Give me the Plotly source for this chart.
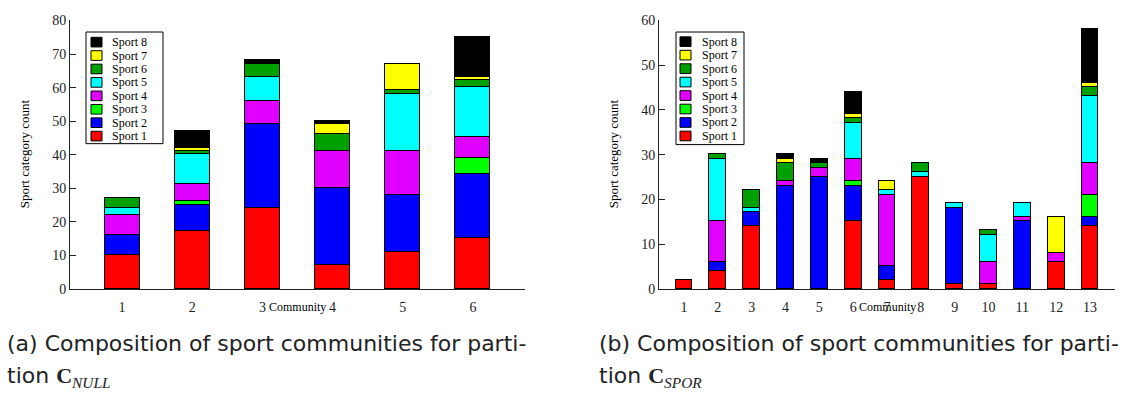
import plotly.graph_objects as go

sports = ["Sport 1", "Sport 2", "Sport 3", "Sport 4", "Sport 5", "Sport 6", "Sport 7", "Sport 8"]
colors = ["#FF0000", "#0000FF", "#00FF00", "#E000FF", "#00FFFF", "#00A000", "#FFFF00", "#000000"]

# Partition C_NULL (communities 1..6)
null_communities = [1, 2, 3, 4, 5, 6]
null_s1 = [10, 17, 24, 7, 11, 15]
null_s2 = [6, 8, 25, 23, 17, 19]
null_s3 = [0, 1, 0, 0, 0, 5]
null_s4 = [6, 5, 7, 11, 13, 6]
null_s5 = [2, 9, 7, 0, 17, 15]
null_s6 = [3, 1, 4, 5, 1, 2]
null_s7 = [0, 1, 0, 3, 8, 1]
null_s8 = [0, 5, 1, 1, 0, 12]

# Partition C_SPOR (communities 1..13)
spor_communities = list(range(1, 14))
spor_s1 = [2, 4, 14, 0, 0, 15, 2, 25, 1, 1, 0, 6, 14]
spor_s2 = [0, 2, 3, 23, 25, 8, 3, 0, 17, 0, 15, 0, 2]
spor_s3 = [0, 0, 0, 0, 0, 1, 0, 0, 0, 0, 0, 0, 5]
spor_s4 = [0, 9, 0, 1, 2, 5, 16, 0, 0, 5, 1, 2, 7]
spor_s5 = [0, 14, 1, 0, 0, 8, 1, 1, 1, 6, 3, 0, 15]
spor_s6 = [0, 1, 4, 4, 1, 1, 0, 2, 0, 1, 0, 0, 2]
spor_s7 = [0, 0, 0, 1, 0, 1, 2, 0, 0, 0, 0, 8, 1]
spor_s8 = [0, 0, 0, 1, 1, 5, 0, 0, 0, 0, 0, 0, 12]

null_series = [null_s1, null_s2, null_s3, null_s4, null_s5, null_s6, null_s7, null_s8]
spor_series = [spor_s1, spor_s2, spor_s3, spor_s4, spor_s5, spor_s6, spor_s7, spor_s8]

SERIF = "Liberation Serif, Times New Roman, serif"
SANS = "DejaVu Sans, sans-serif"
W, H = 1133, 399

fig = go.Figure()
for name, col, vals in zip(sports, colors, null_series):
    fig.add_trace(go.Bar(x=null_communities, y=vals, name=name, width=0.5, showlegend=False,
                         marker=dict(color=col, line=dict(color="black", width=1)),
                         xaxis="x", yaxis="y"))
for name, col, vals in zip(sports, colors, spor_series):
    fig.add_trace(go.Bar(x=spor_communities, y=vals, name=name, width=0.5, showlegend=False,
                         marker=dict(color=col, line=dict(color="black", width=1)),
                         xaxis="x2", yaxis="y2"))

ydom = [1 - 293 / H, 1 - 14 / H]
axis_common = dict(showline=True, linecolor="#222", linewidth=1, showgrid=False, zeroline=False,
                   tickfont=dict(family=SERIF, size=14, color="#222"))

fig.update_layout(
    width=W, height=H, margin=dict(l=0, r=0, t=0, b=0),
    paper_bgcolor="white", plot_bgcolor="white", barmode="stack",
    bargap=0, showlegend=False,
    xaxis=dict(domain=[70 / W, 525 / W], range=[0.257, 6.743], tickvals=null_communities,
               ticks="", anchor="y", ticklabelstandoff=5, **axis_common),
    yaxis=dict(domain=ydom, range=[0, 80], tickvals=list(range(0, 81, 10)), ticks="inside",
               ticklen=6, tickcolor="#222", anchor="x", **axis_common),
    xaxis2=dict(domain=[659 / W, 1115 / W], range=[0.26, 13.74], tickvals=spor_communities,
                ticks="", anchor="y2", ticklabelstandoff=5, **axis_common),
    yaxis2=dict(domain=ydom, range=[0, 60], tickvals=list(range(0, 61, 10)), ticks="inside",
                ticklen=6, tickcolor="#222", anchor="x2", **axis_common),
)

ann = []
shapes = []


def px_x(v):
    return v / W


def px_y(v):
    return 1 - v / H


# custom legends (box, swatches, labels), Sport 8 on top
for (bx0, bx1, by0, by1, sw0, tx, first_y, step) in [(86, 163, 26, 142, 91, 110, 36.5, 13.95),
                                                     (676, 744, 26, 143, 680, 700, 36, 14.0)]:
    shapes.append(dict(type="rect", xref="paper", yref="paper", x0=px_x(bx0), x1=px_x(bx1),
                       y0=px_y(by1), y1=px_y(by0), line=dict(color="black", width=1),
                       fillcolor="white", layer="above"))
    for i, (name, col) in enumerate(reversed(list(zip(sports, colors)))):
        cy = first_y + i * step
        shapes.append(dict(type="rect", xref="paper", yref="paper", x0=px_x(sw0), x1=px_x(sw0 + 11),
                           y0=px_y(cy + 5), y1=px_y(cy - 5), line=dict(color="black", width=1),
                           fillcolor=col, layer="above"))
        ann.append(dict(text=name, x=px_x(tx), y=px_y(cy), xref="paper", yref="paper", showarrow=False,
                        xanchor="left", yanchor="middle", font=dict(family=SERIF, size=12, color="black")))

# y axis titles
for xp in [24, 613]:
    ann.append(dict(text="Sport category count", x=xp / W, y=1 - 153 / H, xref="paper", yref="paper",
                    textangle=-90, showarrow=False, font=dict(family=SERIF, size=13, color="black"),
                    xanchor="center", yanchor="middle"))
# x axis titles
for xp in [297, 887]:
    ann.append(dict(text="Community", x=xp / W, y=1 - 312 / H, xref="paper", yref="paper",
                    showarrow=False, font=dict(family=SERIF, size=12, color="black"),
                    xanchor="center", yanchor="middle"))
# captions
cfont = dict(family=SANS, size=22, color="#222")
C = '<span style="font-family:Liberation Serif;font-weight:bold">C</span>'


def sub(t):
    return '<sub><span style="font-family:Liberation Serif"><i>' + t + '</i></span></sub>'


for x0, letter, subtxt in [(5, "a", "NULL"), (597, "b", "SPOR")]:
    ann.append(dict(text="(" + letter + ") Composition of sport communities for parti-", x=x0 / W,
                    y=1 - 350 / H, xref="paper", yref="paper", showarrow=False, font=cfont,
                    xanchor="left", yanchor="middle"))
    ann.append(dict(text="tion " + C + sub(subtxt), x=x0 / W, y=1 - 384 / H,
                    xref="paper", yref="paper", showarrow=False, font=cfont, xanchor="left",
                    yanchor="middle"))
fig.update_layout(annotations=ann, shapes=shapes)

fig.write_html("out.html")
